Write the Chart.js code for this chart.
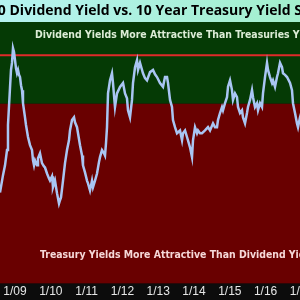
<!DOCTYPE html>
<html>
<head>
<meta charset="utf-8">
<script src="https://cdn.jsdelivr.net/npm/chart.js@4/dist/chart.umd.min.js"></script>
<style>
  html, body { margin: 0; padding: 0; background: #0c0c0c; overflow: hidden; width: 300px; height: 300px; }
  #wrap { position: absolute; left: -70px; top: 0; width: 440px; height: 300px; }
</style>
</head>
<body>
<div id="wrap"><canvas id="c"></canvas></div>
<script>
// ---- data (decimal year, spread in % points) ----
const dates = [
  2008.581, 2008.665, 2008.721, 2008.777, 2008.804, 2008.860, 2008.888, 2008.916, 2008.944, 2008.972,
  2009.000, 2009.028, 2009.056, 2009.084, 2009.112, 2009.140, 2009.168, 2009.196, 2009.223, 2009.251,
  2009.279, 2009.307, 2009.363, 2009.419, 2009.475, 2009.503, 2009.531, 2009.559, 2009.615, 2009.642,
  2009.698, 2009.754, 2009.810, 2009.838, 2009.894, 2009.950, 2009.978, 2010.034, 2010.061, 2010.117,
  2010.173, 2010.229, 2010.257, 2010.285, 2010.341, 2010.397, 2010.453, 2010.508, 2010.536, 2010.592,
  2010.648, 2010.676, 2010.732, 2010.760, 2010.816, 2010.872, 2010.899, 2010.955, 2011.011, 2011.039,
  2011.095, 2011.151, 2011.179, 2011.235, 2011.291, 2011.346, 2011.374, 2011.430, 2011.486, 2011.514,
  2011.542, 2011.570, 2011.598, 2011.654, 2011.709, 2011.737, 2011.793, 2011.849, 2011.933, 2012.017,
  2012.073, 2012.128, 2012.156, 2012.212, 2012.268, 2012.296, 2012.352, 2012.408, 2012.436, 2012.492,
  2012.575, 2012.631, 2012.687, 2012.771, 2012.855, 2012.911, 2012.966, 2013.050, 2013.134, 2013.190,
  2013.246, 2013.274, 2013.330, 2013.385, 2013.413, 2013.469, 2013.525, 2013.609, 2013.665, 2013.693,
  2013.749, 2013.804, 2013.832, 2013.888, 2013.944, 2013.972, 2014.028, 2014.084, 2014.112, 2014.168,
  2014.223, 2014.307, 2014.391, 2014.447, 2014.531, 2014.587, 2014.642, 2014.670, 2014.726, 2014.782,
  2014.810, 2014.866, 2014.922, 2014.950, 2015.006, 2015.061, 2015.089, 2015.145, 2015.201, 2015.229,
  2015.285, 2015.341, 2015.369, 2015.425, 2015.480, 2015.508, 2015.564, 2015.620, 2015.648, 2015.704,
  2015.760, 2015.788, 2015.844, 2015.899, 2015.927, 2015.983, 2016.039, 2016.067, 2016.123, 2016.179,
  2016.207, 2016.263, 2016.318, 2016.346, 2016.402, 2016.458, 2016.486, 2016.542, 2016.598, 2016.682,
  2016.737, 2016.765, 2016.821, 2016.877, 2016.905, 2016.961, 2017.017
];
const spread = [
  -1.63, -1.31, -1.13, -0.85, -0.39, 0.29, 0.62, 0.75, 1.02, 0.95,
  0.80, 0.65, 0.56, 0.62, 0.53, 0.49, 0.34, 0.25, 0.01, -0.12,
  -0.25, -0.39, -0.61, -0.76, -0.85, -1.04, -1.13, -1.04, -1.13, -1.00,
  -0.91, -1.09, -1.15, -1.17, -1.28, -1.37, -1.41, -1.33, -1.53, -1.41,
  -1.64, -1.83, -1.77, -1.72, -1.41, -1.09, -0.85, -0.67, -0.49, -0.30,
  -0.25, -0.34, -0.43, -0.54, -0.76, -0.95, -1.13, -1.26, -1.41, -1.46,
  -1.59, -1.41, -1.53, -1.41, -1.28, -1.07, -0.98, -0.85, -0.91, -0.95,
  -0.72, -0.43, 0.19, 0.43, 0.56, 0.38, -0.06, 0.19, 0.31, 0.38,
  0.19, 0.10, -0.12, -0.25, 0.07, 0.38, 0.67, 0.80, 0.62, 0.75,
  0.56, 0.47, 0.43, 0.58, 0.62, 0.54, 0.49, 0.38, 0.31, 0.49,
  0.49, 0.38, 0.07, -0.06, -0.30, -0.43, -0.54, -0.49, -0.67, -0.54,
  -0.49, -0.61, -0.67, -0.80, -0.98, -0.67, -0.43, -0.54, -0.49, -0.54,
  -0.54, -0.49, -0.43, -0.49, -0.36, -0.43, -0.43, -0.30, -0.17, -0.06,
  -0.12, 0.01, 0.12, 0.31, 0.43, 0.25, 0.07, 0.19, 0.12, -0.06,
  -0.17, -0.12, -0.25, -0.36, -0.17, -0.06, 0.07, 0.25, 0.12, -0.06,
  0.01, -0.12, 0.01, -0.06, 0.19, 0.49, 0.75, 0.62, 0.49, 0.38,
  0.43, 0.31, 0.49, 0.56, 0.75, 0.67, 0.56, 0.53, 0.49, 0.38,
  0.25, 0.01, -0.17, -0.36, -0.43, -0.25, -0.12
];
const tickYears = [2009, 2010, 2011, 2012, 2013, 2014, 2015, 2016, 2017];
const thresholdLevel = 0.89;
const xMin = 2006.905, xMax = 2018.469;
const yMin = -3.3, yMax = 1.5;
const titleText = 'S&P 500 Dividend Yield vs. 10 Year Treasury Yield Spread';
const upperNote = 'Dividend Yields More Attractive Than Treasuries Yields';
const lowerNote = 'Treasury Yields More Attractive Than Dividend Yields';
const upperNoteAt = [2009.56, 1.25];
const lowerNoteAt = [2009.70, -2.78];

const narrow = "'Liberation Sans Narrow', 'DejaVu Sans Condensed', 'Liberation Sans', sans-serif";

const points = dates.map((d, i) => ({ x: d, y: spread[i] }));

const bgPlugin = {
  id: 'bands',
  beforeDraw(chart) {
    const { ctx, chartArea, scales, width, height } = chart;
    const y0 = scales.y.getPixelForValue(0);
    ctx.save();
    const g = ctx.createLinearGradient(70, 0, 370, 0);
    g.addColorStop(0, '#b6f3f1');
    g.addColorStop(1, '#a2efcc');
    ctx.fillStyle = g;
    ctx.fillRect(0, 0, width, chartArea.top);
    ctx.fillStyle = '#053a05';
    ctx.fillRect(0, chartArea.top, width, y0 - chartArea.top);
    ctx.fillStyle = '#690000';
    ctx.fillRect(0, y0, width, chartArea.bottom - y0);
    ctx.fillStyle = '#0c0c0c';
    ctx.fillRect(0, chartArea.bottom, width, height - chartArea.bottom);
    ctx.restore();
  },
  afterDatasetsDraw(chart) {
    const { ctx, scales } = chart;
    ctx.save();
    ctx.font = 'bold 10.4px ' + narrow;
    ctx.textBaseline = 'middle';
    ctx.textAlign = 'left';
    ctx.fillStyle = '#dcecd6';
    ctx.fillText(upperNote, scales.x.getPixelForValue(upperNoteAt[0]), scales.y.getPixelForValue(upperNoteAt[1]));
    ctx.fillStyle = '#f6d8d8';
    ctx.fillText(lowerNote, scales.x.getPixelForValue(lowerNoteAt[0]), scales.y.getPixelForValue(lowerNoteAt[1]));
    ctx.restore();
  }
};

new Chart(document.getElementById('c'), {
  type: 'line',
  data: {
    datasets: [
      { data: points, borderColor: '#a9c5f3', borderWidth: 2.5, pointRadius: 0, tension: 0 },
      { data: [{ x: xMin, y: thresholdLevel }, { x: xMax, y: thresholdLevel }],
        borderColor: '#e02a2a', borderWidth: 2, pointRadius: 0 }
    ]
  },
  options: {
    responsive: true,
    maintainAspectRatio: false,
    animation: false,
    events: [],
    layout: { padding: { left: 10, right: 16, top: 0, bottom: 0 } },
    plugins: {
      legend: { display: false },
      tooltip: { enabled: false },
      title: {
        display: true, text: titleText, color: '#000',
        font: { family: "'Open Sans', sans-serif", size: 14, weight: 'bold', lineHeight: 1.25 },
        padding: { top: 2.5, bottom: 2 }
      }
    },
    scales: {
      x: {
        type: 'linear', min: xMin, max: xMax,
        grid: { display: false, drawTicks: false, tickLength: 0 }, border: { display: false },
        afterBuildTicks(scale) {
          scale.ticks = tickYears.map(v => ({ value: v }));
        },
        ticks: {
          autoSkip: false, maxRotation: 0, padding: 1,
          color: '#e6e6e6', font: { family: "'Liberation Sans', sans-serif", size: 12 },
          callback: v => '1/' + String(Math.round(v)).slice(2)
        }
      },
      y: { display: false, min: yMin, max: yMax }
    }
  },
  plugins: [bgPlugin]
});
</script>
</body>
</html>
